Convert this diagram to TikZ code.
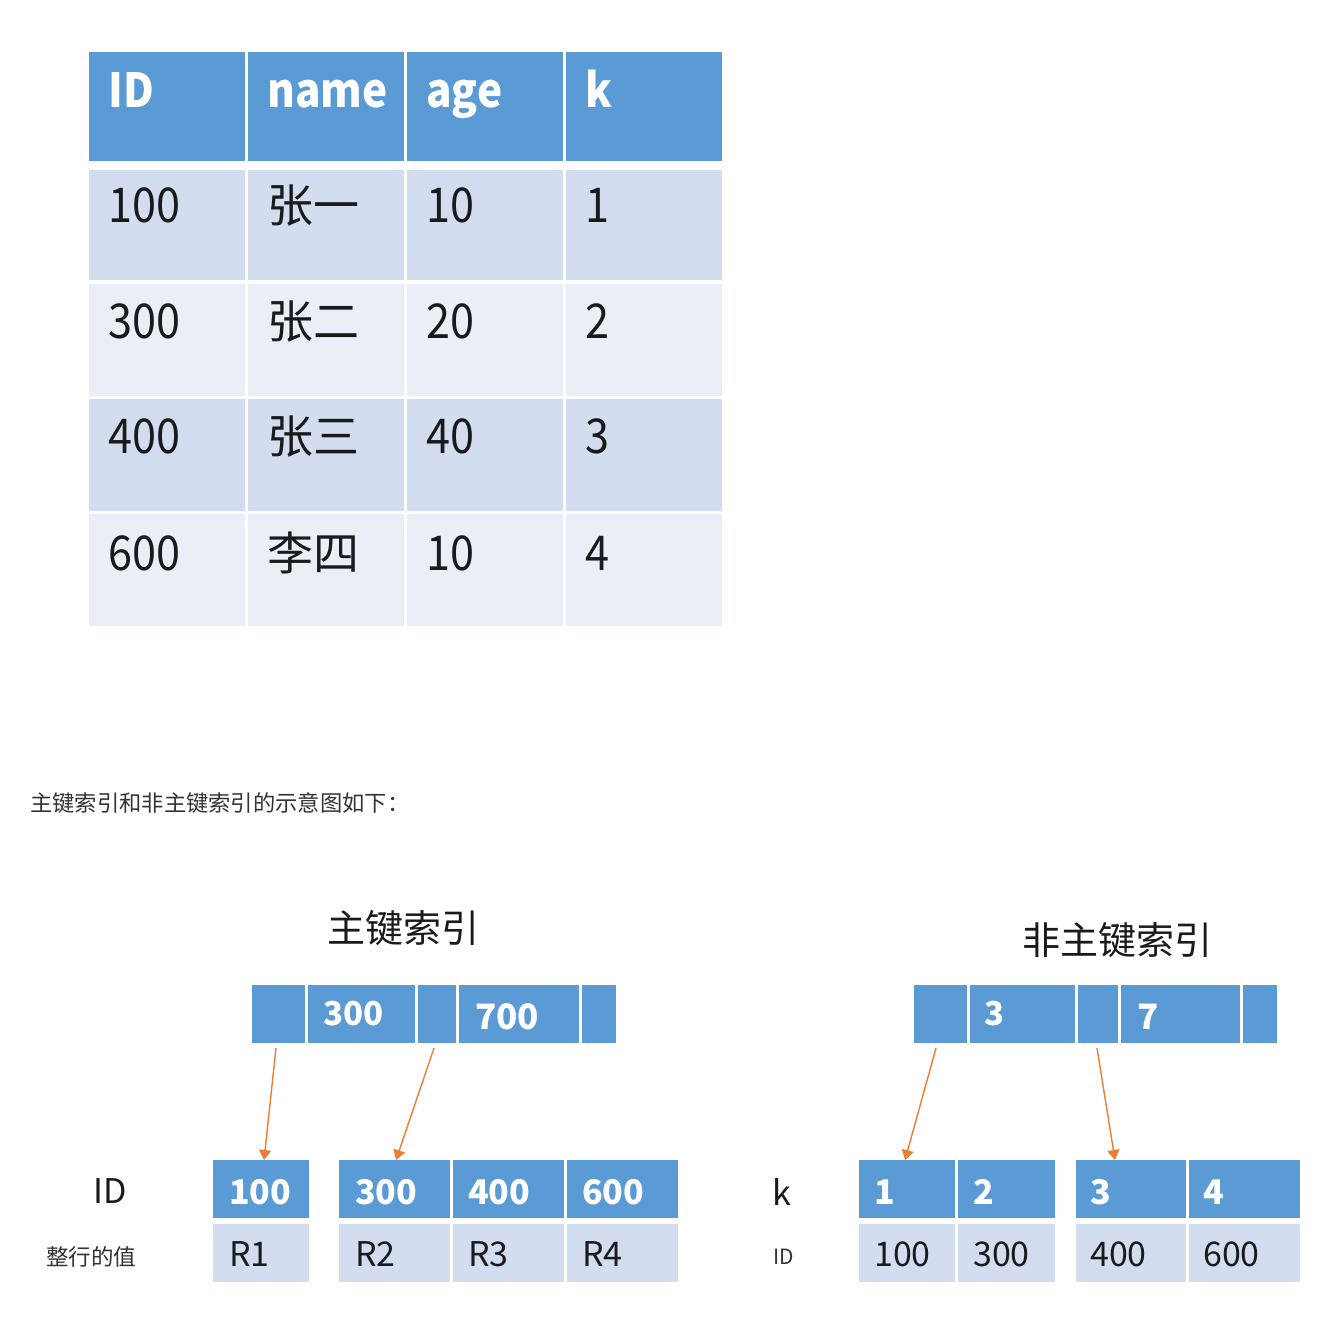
\documentclass[tikz,border=0pt]{standalone}
\usepackage{fontspec}
\setmainfont{Noto Sans CJK SC}
\newfontfamily\latinnarrow{Noto Sans CJK SC}[FakeStretch=0.9]
\usetikzlibrary{arrows.meta}
\definecolor{hdr}{HTML}{5B9BD5}
\definecolor{rowa}{HTML}{D2DEEF}
\definecolor{rowb}{HTML}{EAEFF7}
\definecolor{arrc}{HTML}{ED7D31}
\definecolor{txt}{HTML}{1A1A1A}
\definecolor{lbl}{HTML}{333333}
\newcommand{\fs}[1]{\fontsize{#1}{#1}\selectfont}
\newcommand{\cellbox}[6]{% name, x1, y1, x2, y2, colour
  \pgfmathsetmacro{\cw}{#4-#2}\pgfmathsetmacro{\ch}{#5-#3}%
  \node[cellshape, fill=#6, minimum width=\cw pt, minimum height=\ch pt] (#1) at (#2,#3) {};}
\begin{document}
\begin{tikzpicture}[x=1pt,y=-1pt,
  cellshape/.style={draw=none, inner sep=0pt, outer sep=0pt, anchor=north west, rectangle},
  htext/.style={anchor=base west, inner sep=0pt, text=white, font=\latinnarrow\fs{47}\bfseries},
  btext/.style={anchor=base west, inner sep=0pt, text=txt, font=\latinnarrow\fs{48}},
  ctext/.style={anchor=base west, inner sep=0pt, text=txt, font=\fs{46}},
  ntext/.style={anchor=base west, inner sep=0pt, text=white, font=\fs{34}\bfseries},
  ltext/.style={anchor=base west, inner sep=0pt, text=txt, font=\fs{34}},
  arr/.style={draw=arrc, line width=1.4pt, -{Triangle[width=12pt,length=10pt]}}]
\useasboundingbox[fill=white] (0,0) rectangle (1324,1328);

% ---------- table ----------
\cellbox{h1}{89}{52}{245}{161}{hdr}
\cellbox{h2}{248}{52}{404}{161}{hdr}
\cellbox{h3}{407}{52}{563}{161}{hdr}
\cellbox{h4}{566}{52}{722}{161}{hdr}
\cellbox{a1}{89}{170}{245}{280}{rowa}
\cellbox{a2}{248}{170}{404}{280}{rowa}
\cellbox{a3}{407}{170}{563}{280}{rowa}
\cellbox{a4}{566}{170}{722}{280}{rowa}
\cellbox{b1}{89}{284}{245}{396}{rowb}
\cellbox{b2}{248}{284}{404}{396}{rowb}
\cellbox{b3}{407}{284}{563}{396}{rowb}
\cellbox{b4}{566}{284}{722}{396}{rowb}
\cellbox{c1}{89}{399}{245}{511}{rowa}
\cellbox{c2}{248}{399}{404}{511}{rowa}
\cellbox{c3}{407}{399}{563}{511}{rowa}
\cellbox{c4}{566}{399}{722}{511}{rowa}
\cellbox{d1}{89}{514}{245}{626}{rowb}
\cellbox{d2}{248}{514}{404}{626}{rowb}
\cellbox{d3}{407}{514}{563}{626}{rowb}
\cellbox{d4}{566}{514}{722}{626}{rowb}

\node[htext] (th1) at (108,107) {ID};
\node[htext] (th2) at (267,107) {name};
\node[htext] (th3) at (426,107) {age};
\node[htext] (th4) at (585,107) {k};

\node[btext] (ta1) at (108,222) {100};
\node[ctext] (ta2) at (267,222) {张一};
\node[btext] (ta3) at (426,222) {10};
\node[btext] (ta4) at (585,222) {1};
\node[btext] (tb1) at (108,338) {300};
\node[ctext] (tb2) at (267,338) {张二};
\node[btext] (tb3) at (426,338) {20};
\node[btext] (tb4) at (585,338) {2};
\node[btext] (tc1) at (108,453) {400};
\node[ctext] (tc2) at (267,453) {张三};
\node[btext] (tc3) at (426,453) {40};
\node[btext] (tc4) at (585,453) {3};
\node[btext] (td1) at (108,570) {600};
\node[ctext] (td2) at (267,570) {李四};
\node[btext] (td3) at (426,570) {10};
\node[btext] (td4) at (585,570) {4};

% ---------- caption ----------
\node[anchor=west, inner sep=0pt, text=lbl, font=\fs{22.3}] (cap) at (30,803) {主键索引和非主键索引的示意图如下：};

% ---------- primary index ----------
\node[inner sep=0pt, text=txt, font=\fs{38}] (t1) at (403,928) {主键索引};
\cellbox{p1}{252}{985}{305}{1043}{hdr}
\cellbox{p2}{308}{985}{415}{1043}{hdr}
\cellbox{p3}{418}{985}{456}{1043}{hdr}
\cellbox{p4}{459}{985}{579}{1043}{hdr}
\cellbox{p5}{582}{985}{616}{1043}{hdr}
\node[ntext, font=\fs{33}\bfseries] (p2t) at (323,1025) {300};
\node[ntext, font=\fs{35}\bfseries] (p4t) at (475,1029) {700};

\cellbox{l1}{213}{1160}{309}{1218}{hdr}
\cellbox{l2}{339}{1160}{450}{1218}{hdr}
\cellbox{l3}{453}{1160}{564}{1218}{hdr}
\cellbox{l4}{567}{1160}{678}{1218}{hdr}
\cellbox{r1}{213}{1224}{309}{1282}{rowa}
\cellbox{r2}{339}{1224}{450}{1282}{rowa}
\cellbox{r3}{453}{1224}{564}{1282}{rowa}
\cellbox{r4}{567}{1224}{678}{1282}{rowa}
\node[ntext] (l1t) at (229,1204) {100};
\node[ntext] (l2t) at (355,1204) {300};
\node[ntext] (l3t) at (468,1204) {400};
\node[ntext] (l4t) at (582,1204) {600};
\node[ltext] (r1t) at (229,1266) {R1};
\node[ltext] (r2t) at (355,1266) {R2};
\node[ltext] (r3t) at (468,1266) {R3};
\node[ltext] (r4t) at (582,1266) {R4};

\node[inner sep=0pt, text=txt, font=\fs{34}] (idl) at (110,1191) {ID};
\node[inner sep=0pt, text=lbl, font=\fs{22.5}] (rowl) at (91,1257) {整行的值};

\coordinate (pa1) at (276,1048);
\coordinate (pa2) at (434,1048);
\draw[arr] (pa1) -- (l1.north -| 264,0);
\draw[arr] (pa2) -- (l2.north -| 396,0);

% ---------- secondary index ----------
\node[inner sep=0pt, text=txt, font=\fs{38}] (t2) at (1117,940) {非主键索引};
\cellbox{s1}{914}{985}{967}{1043}{hdr}
\cellbox{s2}{970}{985}{1075}{1043}{hdr}
\cellbox{s3}{1078}{985}{1118}{1043}{hdr}
\cellbox{s4}{1121}{985}{1240}{1043}{hdr}
\cellbox{s5}{1243}{985}{1277}{1043}{hdr}
\node[ntext, font=\fs{33}\bfseries] (s2t) at (984,1025) {3};
\node[ntext, font=\fs{35}\bfseries] (s4t) at (1137,1029) {7};

\cellbox{k1}{859}{1160}{955}{1218}{hdr}
\cellbox{k2}{958}{1160}{1055}{1218}{hdr}
\cellbox{k3}{1076}{1160}{1186}{1218}{hdr}
\cellbox{k4}{1189}{1160}{1300}{1218}{hdr}
\cellbox{i1}{859}{1224}{955}{1282}{rowa}
\cellbox{i2}{958}{1224}{1055}{1282}{rowa}
\cellbox{i3}{1076}{1224}{1186}{1282}{rowa}
\cellbox{i4}{1189}{1224}{1300}{1282}{rowa}
\node[ntext] (k1t) at (874,1204) {1};
\node[ntext] (k2t) at (973,1204) {2};
\node[ntext] (k3t) at (1090,1204) {3};
\node[ntext] (k4t) at (1203,1204) {4};
\node[ltext] (i1t) at (874,1266) {100};
\node[ltext] (i2t) at (973,1266) {300};
\node[ltext] (i3t) at (1090,1266) {400};
\node[ltext] (i4t) at (1203,1266) {600};

\node[inner sep=0pt, text=txt, font=\fs{34}] (kl) at (782,1192) {k};
\node[inner sep=0pt, text=lbl, font=\fs{21}] (idl2) at (784,1257) {ID};

\coordinate (sa1) at (936,1048);
\coordinate (sa2) at (1097,1048);
\draw[arr] (sa1) -- (k1.north -| 905,0);
\draw[arr] (sa2) -- (k3.north -| 1115,0);
\end{tikzpicture}
\end{document}
